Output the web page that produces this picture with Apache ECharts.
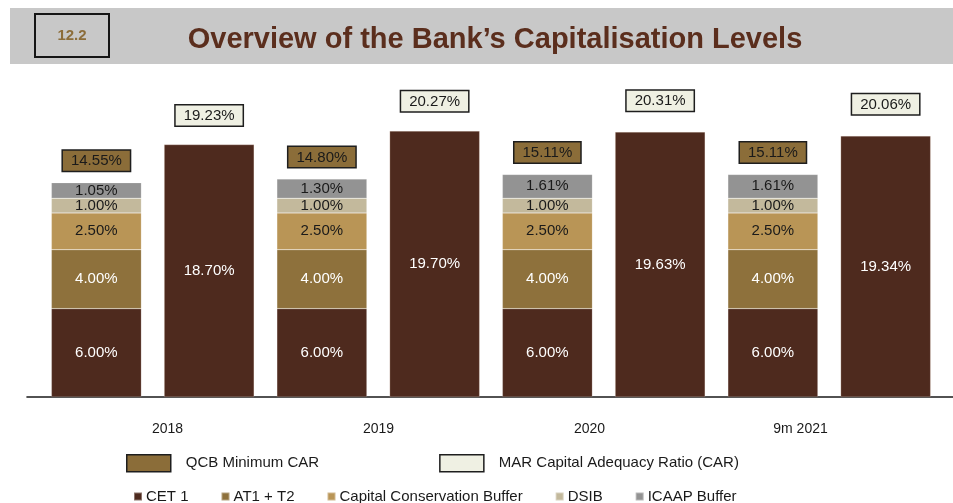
<!DOCTYPE html>
<html>
<head>
<meta charset="utf-8">
<title>Overview of the Bank’s Capitalisation Levels</title>
<script src="https://cdn.jsdelivr.net/npm/echarts@6.0.0/dist/echarts.min.js"></script>
<style>
  html, body { margin: 0; padding: 0; background: #ffffff; }
  #chart { width: 953px; height: 503px; }
</style>
</head>
<body>
<div id="chart"></div>
<script>
// Periods shown on the axis
const years = ['2018', '2019', '2020', '9m 2021'];

// Regulatory requirement components (%)
const cet1Req   = [6.00, 6.00, 6.00, 6.00];
const at1t2Req  = [4.00, 4.00, 4.00, 4.00];
const ccbReq    = [2.50, 2.50, 2.50, 2.50];
const dsibReq   = [1.00, 1.00, 1.00, 1.00];
const icaapReq  = [1.05, 1.30, 1.61, 1.61];
const qcbMinCar = [14.55, 14.80, 15.11, 15.11];

// Bank's actual ratios (%)
const cet1Actual = [18.70, 19.70, 19.63, 19.34];
const marCar     = [19.23, 20.27, 20.31, 20.06];

const FONT = "'Liberation Sans', Arial, sans-serif";
const C = {
  cet1: '#4e2a1e',
  at1: '#8e713c',
  ccb: '#b99556',
  dsib: '#c3b99c',
  icaap: '#939393',
  qcbBox: '#8b6d39',
  carBox: '#eff0e3'
};

// Each period takes two slots: requirement stack, then the actual ratio
const slots = [];
years.forEach(y => { slots.push(y + ' requirement'); slots.push(y + ' actual'); });
const reqSlots = arr => arr.flatMap(v => [v, '-']);
const actSlots = arr => arr.flatMap(v => ['-', v]);

const pct = p => Number(p.value).toFixed(2) + '%';

function segment(name, arr, color, textColor) {
  return {
    name: name,
    type: 'bar',
    xAxisIndex: 0,
    yAxisIndex: 0,
    stack: 'req',
    barWidth: 90,
    barGap: '-100%',
    data: reqSlots(arr),
    itemStyle: { color: color, borderColor: 'rgba(255,255,255,0.35)', borderWidth: 0.5 },
    label: {
      show: true, position: 'inside', formatter: pct,
      color: textColor, fontFamily: FONT, fontSize: 15
    },
    emphasis: { disabled: true }
  };
}

function totalBox(name, arr, yIdx, fill, slotFn) {
  return {
    name: name,
    type: 'bar',
    xAxisIndex: 0,
    yAxisIndex: yIdx,
    barWidth: 90,
    barGap: '-100%',
    z: 5,
    data: slotFn(arr),
    itemStyle: { color: 'rgba(0,0,0,0)' },
    label: {
      show: true, position: 'top', distance: 12, formatter: pct,
      color: '#1a1a1a', fontFamily: FONT, fontSize: 15,
      backgroundColor: fill, borderColor: '#1e1e1e', borderWidth: 1.5,
      padding: [3, 8, 2, 8]
    },
    emphasis: { disabled: true }
  };
}

const chart = echarts.init(document.getElementById('chart'), null, { renderer: 'canvas' });

chart.setOption({
  backgroundColor: '#ffffff',
  animation: false,
  title: {
    text: 'Overview of the Bank’s Capitalisation Levels',
    left: 490, top: 20, textAlign: 'center',
    textStyle: { color: '#5b2e1d', fontFamily: FONT, fontSize: 29, fontWeight: 'bold' }
  },
  graphic: [
    { type: 'rect', z: -10, shape: { x: 10, y: 8, width: 943, height: 56 }, style: { fill: '#c8c8c8' } },
    { type: 'rect', z: -5, shape: { x: 35, y: 14, width: 74, height: 43 }, style: { fill: 'none', stroke: '#151515', lineWidth: 2 } },
    { type: 'text', z: -5, x: 72, y: 36, style: { text: '12.2', fill: '#8c6d3a', font: 'bold 15px ' + FONT, align: 'center', verticalAlign: 'middle' } }
  ],
  legend: [
    {
      left: 121, top: 449, orient: 'horizontal',
      itemWidth: 44, itemHeight: 17, itemGap: 120, icon: 'rect',
      selectedMode: false,
      textStyle: { color: '#1a1a1a', fontFamily: FONT, fontSize: 15, padding: [0, 0, 0, 10] },
      data: [
        { name: 'QCB Minimum CAR', itemStyle: { color: C.qcbBox, borderColor: '#1e1e1e', borderWidth: 1.5 } },
        { name: 'MAR Capital Adequacy Ratio (CAR)', itemStyle: { color: C.carBox, borderColor: '#1e1e1e', borderWidth: 1.5 } }
      ]
    },
    {
      left: 128, top: 484, orient: 'horizontal',
      itemWidth: 8, itemHeight: 8, itemGap: 32, icon: 'rect',
      selectedMode: false,
      textStyle: { color: '#1a1a1a', fontFamily: FONT, fontSize: 15, padding: [0, 0, 0, -1] },
      data: ['CET 1', 'AT1 + T2', 'Capital Conservation Buffer', 'DSIB', 'ICAAP Buffer']
    }
  ],
  grid: [
    { left: 40, right: 11, top: 73, bottom: 106 },
    { left: 62, right: 47, top: 73, bottom: 106 },
    { left: 27, right: 0, top: 73, bottom: 106 }
  ],
  xAxis: [
    { gridIndex: 0, type: 'category', data: slots, axisLine: { show: false }, axisTick: { show: false }, axisLabel: { show: false } },
    {
      gridIndex: 1, type: 'category', data: years,
      axisLine: { show: false }, axisTick: { show: false },
      axisLabel: { margin: 25, color: '#1a1a1a', fontFamily: FONT, fontSize: 14 }
    },
    {
      gridIndex: 2, type: 'category', data: [''],
      axisLine: { show: true, lineStyle: { color: '#1a1a1a', width: 1.6 } },
      axisTick: { show: false }, axisLabel: { show: false }
    }
  ],
  yAxis: [
    { gridIndex: 0, type: 'value', min: 0, max: 22, show: false, splitLine: { show: false } },
    { gridIndex: 0, type: 'value', min: 0, max: 24, show: false, splitLine: { show: false } },
    { gridIndex: 1, type: 'value', show: false, splitLine: { show: false } },
    { gridIndex: 2, type: 'value', show: false, splitLine: { show: false } }
  ],
  series: [
    segment('CET 1', cet1Req, C.cet1, '#ffffff'),
    segment('AT1 + T2', at1t2Req, C.at1, '#ffffff'),
    segment('Capital Conservation Buffer', ccbReq, C.ccb, '#1a1a1a'),
    segment('DSIB', dsibReq, C.dsib, '#1a1a1a'),
    segment('ICAAP Buffer', icaapReq, C.icaap, '#1a1a1a'),
    {
      name: 'CET 1 ratio',
      type: 'bar',
      xAxisIndex: 0,
      yAxisIndex: 1,
      stack: 'actual',
      barWidth: 90,
      barGap: '-100%',
      data: actSlots(cet1Actual),
      itemStyle: { color: C.cet1, borderColor: 'rgba(255,235,225,0.45)', borderWidth: 0.5 },
      label: { show: true, position: 'inside', formatter: pct, color: '#ffffff', fontFamily: FONT, fontSize: 15 },
      emphasis: { disabled: true }
    },
    totalBox('QCB Minimum CAR', qcbMinCar, 0, C.qcbBox, reqSlots),
    totalBox('MAR Capital Adequacy Ratio (CAR)', marCar, 1, C.carBox, actSlots)
  ]
});
</script>
</body>
</html>
